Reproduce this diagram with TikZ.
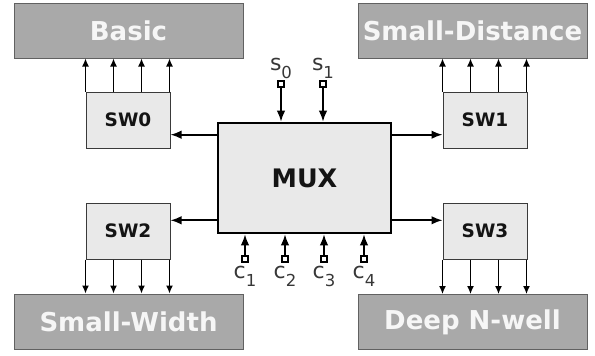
\documentclass[tikz,border=0pt]{standalone}
\usepackage{fontspec}
\setmainfont{DejaVu Sans}
\usetikzlibrary{arrows.meta,positioning,calc}
\definecolor{BankGray}{HTML}{A9A9A9}
\definecolor{BoxFill}{HTML}{E9E9E9}
\definecolor{EdgeGray}{HTML}{3A3A3A}
\definecolor{LabelWhite}{HTML}{F6F6F6}
\definecolor{Ink}{HTML}{141414}
\newcommand{\sig}[2]{#1\raisebox{-8pt}{\fontsize{16.5}{16.5}\selectfont #2}}

\begin{document}
\begin{tikzpicture}[x=1pt,y=-1pt,>={Latex[length=11pt,width=8.5pt]},
  bank/.style={draw=EdgeGray!80,fill=BankGray,line width=1pt,minimum width=229pt,
    minimum height=55pt,inner sep=0pt,text=LabelWhite,font=\fontsize{26}{26}\selectfont\bfseries},
  switch/.style={draw=EdgeGray,fill=BoxFill,line width=1pt,minimum width=84pt,
    minimum height=56pt,inner sep=0pt,text=Ink,font=\fontsize{18.5}{18.5}\selectfont\bfseries},
  mux/.style={draw=black,fill=BoxFill,line width=2.6pt,minimum width=173pt,
    minimum height=110pt,inner sep=0pt,text=Ink,font=\fontsize{25.5}{25.5}\selectfont\bfseries},
  pin/.style={draw=black,fill=white,line width=1.1pt,minimum size=6pt,inner sep=0pt},
  bus/.style={->,line width=1.3pt,>={Latex[length=8pt,width=7pt]}},
  ctrl/.style={->,line width=1.7pt},
  siglabel/.style={text=Ink!85,font=\fontsize{22}{22}\selectfont,inner sep=0pt}]
  \useasboundingbox (0,0) rectangle (595,356);
  % memory banks in the four corners
  \node[bank] (basic) at (128.5,30.5) {Basic};
  \node[bank] (sdist) at (472.5,30.5) {Small-Distance};
  \node[bank] (swidth) at (128.5,321.5) {Small-Width};
  \node[bank] (nwell) at (472.5,322) {Deep N-well};
  \node[switch] (sw0) at (128,120) {SW0};
  \node[switch] (sw1) at (485,120) {SW1};
  \node[switch] (sw2) at (128,231) {SW2};
  \node[switch] (sw3) at (485,231) {SW3};
  \node[mux] (mux) at (304.5,178) {MUX};
  % four bus lines between each switch and its bank
  \foreach \i in {0,1,2,3}{
    \path (sw0.north west) ++(\i*28,0) coordinate (t0\i);
    \path (sw1.north west) ++(\i*28,0) coordinate (t1\i);
    \path (sw2.south west) ++(\i*28,0) coordinate (t2\i);
    \path (sw3.south west) ++(\i*28,0) coordinate (t3\i);
    \draw[bus] (t0\i) -- (t0\i |- basic.south);
    \draw[bus] (t1\i) -- (t1\i |- sdist.south);
    \draw[bus] (t2\i) -- (t2\i |- swidth.north);
    \draw[bus] (t3\i) -- (t3\i |- nwell.north);
  }
  \coordinate (mtop) at ([yshift=-13pt]mux.north west);
  \coordinate (mbot) at ([yshift=14pt]mux.south west);
  \coordinate (mtopr) at ([yshift=-13pt]mux.north east);
  \coordinate (mbotr) at ([yshift=14pt]mux.south east);
  \draw[ctrl] (mtop) -- (mtop -| sw0.east);
  \draw[ctrl] (mtopr) -- (mtopr -| sw1.west);
  \draw[ctrl] (mbot) -- (mbot -| sw2.east);
  \draw[ctrl] (mbotr) -- (mbotr -| sw3.west);
  % select and control inputs
  \foreach \x/\n in {281/0,323/1}{
    \node[pin] (s\n) at (\x,84) {};
    \node[siglabel,above=2pt of s\n] (ls\n) {\sig{s}{\n}};
    \draw[ctrl] (s\n.south) -- (s\n.south |- mux.north);
  }
  \foreach \x/\n in {245/1,285/2,324/3,364/4}{
    \node[pin] (c\n) at (\x,259) {};
    \node[siglabel,below=3pt of c\n] (lc\n) {\sig{c}{\n}};
    \draw[ctrl] (c\n.north) -- (c\n.north |- mux.south);
  }
\end{tikzpicture}
\end{document}
